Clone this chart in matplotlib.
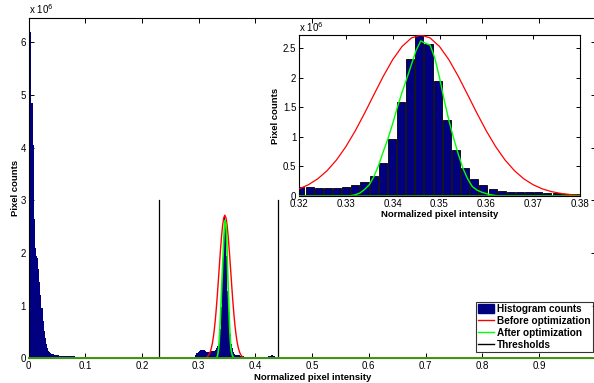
import numpy as np
import matplotlib
matplotlib.use("Agg")
import matplotlib.pyplot as plt
from matplotlib.patches import Patch
from matplotlib.lines import Line2D

plt.rcParams['font.family'] = ['Liberation Sans', 'DejaVu Sans']

# ---------------- data (counts in units of 1e6) ----------------
BINS = 512  # histogram bins over [0, 1]

# main histogram, low-intensity segment, starting at bin 0
low_start = 0
low_counts = [2.5, 6.47, 6.2, 4.85, 4.05, 2.65, 2.1, 1.95, 1.9, 1.7,
              1.45, 1.2, 0.95, 0.72, 0.52, 0.38, 0.27, 0.2, 0.15, 0.12,
              0.1, 0.09, 0.08, 0.075, 0.07, 0.065, 0.06, 0.058, 0.055, 0.052,
              0.05, 0.048, 0.047, 0.046, 0.045, 0.044, 0.043, 0.042, 0.041, 0.04,
              0.039, 0.038, 0.037, 0.036, 0.035, 0.034, 0.033, 0.032, 0.031, 0.03,
              0.03, 0.029, 0.028, 0.027, 0.026, 0.025, 0.024, 0.023, 0.022, 0.021,
              0.02, 0.019, 0.018, 0.017, 0.016, 0.015, 0.014, 0.013, 0.012, 0.011,
              0.01, 0.009, 0.008, 0.007, 0.006, 0.005, 0.004, 0.003, 0.002, 0.001]

# main histogram, middle segment, starting at bin 148
mid_start = 148
mid_counts = [0.005, 0.01, 0.02, 0.06, 0.10, 0.13, 0.15, 0.16, 0.17, 0.17,
              0.17, 0.16, 0.15, 0.13, 0.12, 0.13,
              # bins 164..194 (also shown in the inset)
              0.15, 0.15, 0.14, 0.14, 0.14, 0.16, 0.19, 0.23, 0.34, 0.56,
              0.97, 1.59, 2.31, 2.72, 2.57, 1.94, 1.28, 0.78, 0.47, 0.28,
              0.19, 0.12, 0.09, 0.07, 0.065, 0.06, 0.06, 0.05, 0.045, 0.04,
              0.04,
              0.035, 0.03, 0.03, 0.028, 0.026, 0.025, 0.024, 0.022, 0.021, 0.02,
              0.02, 0.02, 0.02, 0.02, 0.02, 0.02, 0.02, 0.02, 0.02, 0.02,
              0.025, 0.03, 0.04, 0.05, 0.06, 0.06, 0.05, 0.04, 0.03, 0.02,
              0.015, 0.012, 0.01, 0.008, 0.006, 0.005, 0.004, 0.003, 0.002, 0.001]

# inset bars: bins 164..194
inset_start = 164
inset_counts = mid_counts[inset_start - mid_start: inset_start - mid_start + 31]

# "Before optimization" curve
red_x = [0.0] + [round(0.300 + 0.002 * i, 3) for i in range(47)] + [1.0]
red_y = [0.0,
         0.0, 0.0, 0.0008, 0.0016, 0.0034, 0.0068, 0.013, 0.024, 0.0425, 0.0725,
         0.119, 0.190, 0.290, 0.428, 0.608, 0.833, 1.099, 1.398, 1.713, 2.023,
         2.303, 2.526, 2.670, 2.720, 2.670, 2.526, 2.303, 2.023, 1.713, 1.398,
         1.099, 0.833, 0.608, 0.428, 0.290, 0.190, 0.119, 0.0725, 0.0425, 0.024,
         0.013, 0.0068, 0.0034, 0.0016, 0.0008, 0.0, 0.0,
         0.0]

# "After optimization" curve
green_x = [0.0] + [round(0.330 + 0.001 * i, 3) for i in range(34)] + [1.0]
green_y = [0.0,
           0.0, 0.005, 0.02, 0.05, 0.11, 0.19, 0.33, 0.52, 0.75, 0.97,
           1.22, 1.50, 1.75, 1.98, 2.22, 2.46, 2.62, 2.58, 2.55, 2.33,
           2.00, 1.62, 1.28, 0.98, 0.71, 0.47, 0.29, 0.16, 0.10, 0.065,
           0.04, 0.02, 0.008, 0.0,
           0.0]

thresholds = [0.23, 0.44]
threshold_height = 3.0

main_xticks = [0, 0.1, 0.2, 0.3, 0.4, 0.5, 0.6, 0.7, 0.8, 0.9, 1.0]
main_xticklabels = ['0', '0.1', '0.2', '0.3', '0.4', '0.5', '0.6', '0.7', '0.8', '0.9', '1']
main_yticks = [0, 1, 2, 3, 4, 5, 6]
inset_xticks = [0.32, 0.33, 0.34, 0.35, 0.36, 0.37, 0.38]
inset_xticklabels = ['0.32', '0.33', '0.34', '0.35', '0.36', '0.37', '0.38']
inset_yticks = [0, 0.5, 1, 1.5, 2, 2.5]
inset_yticklabels = ['0', '0.5', '1', '1.5', '2', '2.5']

NAVY = (0, 0, 0.5)
RED = (1, 0, 0)
GREEN = (0, 1, 0)

# ---------------- figure ----------------
fig = plt.figure(figsize=(5.94, 3.83), dpi=100)
ax = fig.add_axes([0.0483, 0.064, 0.9545, 0.890])

def edges(start, n):
    return (np.arange(start, start + n + 1) - 0.5) / BINS

ax.stairs(low_counts, np.clip(edges(low_start, len(low_counts)), 0, None),
          fill=True, color=NAVY, lw=0, zorder=2)
ax.stairs(mid_counts, edges(mid_start, len(mid_counts)),
          fill=True, color=NAVY, lw=0, zorder=2)
ax.plot(red_x, red_y, color=RED, lw=1.0, zorder=3)
ax.plot(green_x, green_y, color=GREEN, lw=1.2, zorder=4)
# green baseline drawn over the bottom axis line, like the reference
ax.plot([green_x[0], green_x[-1]], [green_y[0], green_y[-1]], color=(0.25, 0.6, 0.05),
        lw=1.4, zorder=5, clip_on=False)
for t in thresholds:
    ax.plot([t, t], [0, threshold_height], color='black', lw=0.9, zorder=3)

ax.set_xlim(0, 1)
ax.set_ylim(0, 6.47)
ax.set_xticks(main_xticks)
ax.set_xticklabels(main_xticklabels)
ax.set_yticks(main_yticks)
ax.tick_params(direction='in', length=3.5, width=0.7, labelsize=7,
               top=True, right=True, pad=2)
for s in ax.spines.values():
    s.set_linewidth(0.8)
ax.set_xlabel('Normalized pixel intensity', fontsize=6.8, fontweight='bold', labelpad=1)
ax.set_ylabel('Pixel counts', fontsize=6.8, fontweight='bold', labelpad=0)
ax.text(0.0, 1.005, r'x 10$^{6}$', transform=ax.transAxes, fontsize=7,
        ha='left', va='bottom')

handles = [Patch(facecolor=NAVY, edgecolor=NAVY),
           Line2D([], [], color=RED, lw=1),
           Line2D([], [], color=GREEN, lw=1),
           Line2D([], [], color='black', lw=1)]
labels = ['Histogram counts', 'Before optimization', 'After optimization', 'Thresholds']
leg = fig.legend(handles, labels, loc='lower left',
                 bbox_to_anchor=(476 / 594, 31 / 383), bbox_transform=fig.transFigure,
                 prop={'size': 7.2, 'weight': 'bold'}, frameon=True, fancybox=False,
                 edgecolor='black', handlelength=1.6, handleheight=0.9, handletextpad=0.3,
                 labelspacing=0.2, borderpad=0.2, borderaxespad=0)
leg.get_frame().set_linewidth(0.8)

# ---------------- inset ----------------
axi = fig.add_axes([299 / 594, 1 - 196 / 383, 281 / 594, 161 / 383])
inset_centers = np.arange(inset_start, inset_start + len(inset_counts)) / BINS
axi.bar(inset_centers, inset_counts, width=0.88 / BINS, color=NAVY,
        edgecolor='black', linewidth=0.6, zorder=2)
axi.plot(red_x, red_y, color=RED, lw=0.9, zorder=3)
axi.plot(green_x, green_y, color=GREEN, lw=1.0, zorder=4)
axi.plot([green_x[0], green_x[-1]], [green_y[0], green_y[-1]], color=(0.25, 0.6, 0.05),
         lw=1.2, zorder=5)
axi.set_xlim(0.32, 0.38)
axi.set_ylim(0, 2.72)
axi.set_xticks(inset_xticks)
axi.set_xticklabels(inset_xticklabels)
axi.set_yticks(inset_yticks)
axi.set_yticklabels(inset_yticklabels)
axi.tick_params(direction='in', length=3, width=0.7, labelsize=7,
                top=True, right=True, pad=2)
for s in axi.spines.values():
    s.set_linewidth(0.8)
axi.set_xlabel('Normalized pixel intensity', fontsize=6.8, fontweight='bold', labelpad=1)
axi.set_ylabel('Pixel counts', fontsize=6.8, fontweight='bold', labelpad=2)
axi.text(0.0, 1.005, r'x 10$^{6}$', transform=axi.transAxes, fontsize=7,
         ha='left', va='bottom')

fig.savefig('out.png', dpi=100)
